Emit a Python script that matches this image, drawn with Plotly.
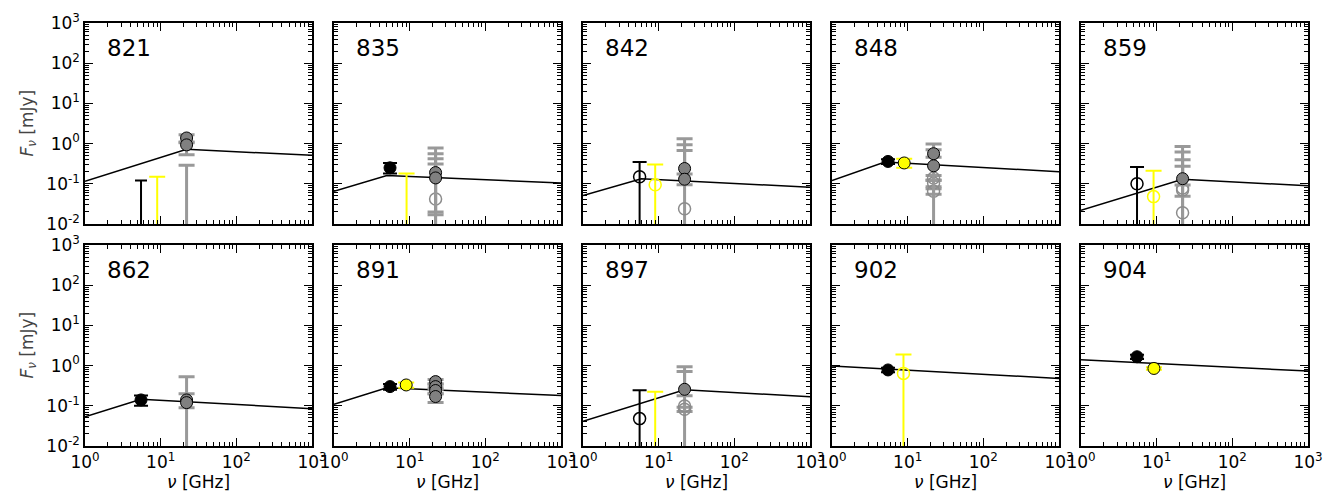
import plotly.graph_objects as go

# ---------------- data ----------------
PANEL_IDS = ["821", "835", "842", "848", "859", "862", "891", "897", "902", "904"]

# model SED (broken power law) nodes per panel
MODEL_NU = [[1, 22, 1000], [1, 5, 1000], [1, 5.9, 1000], [1, 5, 1000], [1, 22, 1000],
            [1, 5.5, 1000], [1, 5, 1000], [1, 22, 1000], [1, 1000], [1, 1000]]
MODEL_FLUX = [[0.115, 0.72, 0.51], [0.065, 0.16, 0.105], [0.051, 0.134, 0.082],
              [0.12, 0.35, 0.2], [0.022, 0.13, 0.089], [0.053, 0.145, 0.085],
              [0.109, 0.28, 0.18], [0.041, 0.25, 0.169], [0.98, 0.48], [1.4, 0.73]]

# (panel, nu [GHz], flux [mJy], err_up, err_down); err_down None -> extends below axis
BLACK_FILLED = [(1, 5.5, 0.25, 0.08, 0.07), (3, 5.5, 0.36, 0.05, 0.05),
                (5, 5.5, 0.14, 0.04, 0.04), (6, 5.5, 0.30, 0.05, 0.05),
                (8, 5.5, 0.78, 0.10, 0.10), (9, 5.5, 1.66, 0.20, 0.20)]
YELLOW_FILLED = [(3, 9.0, 0.33, 0.09, 0.08), (6, 9.0, 0.33, 0.05, 0.05),
                 (9, 9.2, 0.85, 0.06, 0.06)]
GRAY_FILLED = [(0, 22, 1.38, 0.28, 0.33), (0, 22, 0.93, 0.17, 0.40),
               (1, 22, 0.19, 0.59, 0.17), (1, 22, 0.14, 0.42, None),
               (2, 22, 0.24, 1.08, 0.065), (2, 22, 0.13, 0.80, 0.035),
               (3, 22, 0.56, 0.42, 0.10), (3, 22, 0.28, 0.42, None),
               (4, 22, 0.134, 0.14, 0.04),
               (5, 22, 0.14, 0.06, 0.05), (5, 22, 0.12, 0.41, None),
               (6, 22, 0.40, 0.05, 0.05), (6, 22, 0.30, 0.05, 0.05),
               (6, 22, 0.24, 0.04, 0.04), (6, 22, 0.17, 0.03, 0.05),
               (7, 22, 0.257, 0.68, 0.08)]
BLACK_OPEN = [(2, 5.6, 0.15, 0.20, None), (4, 5.5, 0.10, 0.16, None),
              (7, 5.6, 0.048, 0.195, None)]
YELLOW_OPEN = [(2, 9.0, 0.095, 0.205, None), (4, 9.1, 0.048, 0.162, None),
               (8, 8.8, 0.64, 1.26, None)]
GRAY_OPEN = [(1, 22, 0.042, 0.38, 0.025), (2, 22, 0.024, 0.65, None),
             (3, 22, 0.14, 0.02, 0.02), (3, 22, 0.105, 0.02, 0.02), (3, 22, 0.065, 0.01, 0.01),
             (4, 22, 0.079, 0.54, 0.03), (4, 22, 0.07, 0.78, None), (4, 22, 0.019, 0.38, None),
             (7, 22, 0.099, 0.61, None), (7, 22, 0.082, 0.01, 0.01)]
# upper limits: (panel, nu, limit)
BLACK_LIMITS = [(0, 5.5, 0.12)]
YELLOW_LIMITS = [(0, 9.0, 0.15), (1, 9.1, 0.18), (7, 9.0, 0.225)]
GRAY_LIMITS = [(0, 22, 0.29), (1, 22, 0.31)]

X_TICKS = [1, 10, 100, 1000]
X_TICKTEXT = ["10<sup>0</sup>", "10<sup>1</sup>", "10<sup>2</sup>", "10<sup>3</sup>"]
Y_TICKS = [0.01, 0.1, 1, 10, 100, 1000]
Y_TICKTEXT = ["10<sup>-2</sup>", "10<sup>-1</sup>", "10<sup>0</sup>",
              "10<sup>1</sup>", "10<sup>2</sup>", "10<sup>3</sup>"]

# ---------------- style ----------------
FONT = "DejaVu Sans"
BLACK = "#000000"
YELLOW = "#ffff00"
GRAY_FILL = "#808080"
GRAY_BAR = "#999999"
GRAY_EDGE = "#8c8c8c"
W, H = 1331, 492
COL_LEFT = [77, 326, 575, 824, 1073]
PANEL_W = 227
ROW_TOP = [15, 237]
PANEL_H = 201
BOTTOM_FLOOR = 1e-4

fig = go.Figure()


def ax_names(i):
    n = i + 1
    return ("x" if n == 1 else f"x{n}"), ("y" if n == 1 else f"y{n}")


# model lines
for i in range(10):
    xr, yr = ax_names(i)
    fig.add_trace(go.Scatter(x=MODEL_NU[i], y=MODEL_FLUX[i], mode="lines",
                             line=dict(color=BLACK, width=1.5), xaxis=xr, yaxis=yr,
                             showlegend=False, hoverinfo="skip"))


def add_points(entries, marker, bar_color, bar_thick, bar_w):
    for i in range(10):
        pts = [e for e in entries if e[0] == i]
        if not pts:
            continue
        xr, yr = ax_names(i)
        xs = [p[1] for p in pts]
        ys = [p[2] for p in pts]
        up = [p[3] for p in pts]
        dn = [(p[2] - BOTTOM_FLOOR) if p[4] is None else p[4] for p in pts]
        fig.add_trace(go.Scatter(
            x=xs, y=ys, mode="markers", marker=marker, xaxis=xr, yaxis=yr,
            error_y=dict(type="data", array=up, arrayminus=dn, color=bar_color,
                         thickness=bar_thick, width=bar_w, symmetric=False),
            showlegend=False, hoverinfo="skip"))


def add_limits(entries, bar_color, bar_thick, bar_w):
    for i in range(10):
        pts = [e for e in entries if e[0] == i]
        if not pts:
            continue
        xr, yr = ax_names(i)
        fig.add_trace(go.Scatter(
            x=[p[1] for p in pts], y=[p[2] for p in pts], mode="markers",
            marker=dict(size=1, color="rgba(0,0,0,0)"), xaxis=xr, yaxis=yr,
            error_y=dict(type="data", array=[0 for _ in pts],
                         arrayminus=[p[2] - BOTTOM_FLOOR for p in pts],
                         color=bar_color, thickness=bar_thick, width=bar_w, symmetric=False),
            showlegend=False, hoverinfo="skip"))


add_limits(BLACK_LIMITS, BLACK, 2, 6)
add_limits(YELLOW_LIMITS, YELLOW, 2, 8)
add_limits(GRAY_LIMITS, GRAY_BAR, 3, 8)

add_points(GRAY_OPEN, dict(symbol="circle-open", size=12, color=GRAY_EDGE, line=dict(width=1.5)),
           GRAY_BAR, 3, 8)
add_points(GRAY_FILLED, dict(symbol="circle", size=12, color=GRAY_FILL, line=dict(color=BLACK, width=1)),
           GRAY_BAR, 3, 8)
add_points(BLACK_OPEN, dict(symbol="circle-open", size=12, color=BLACK, line=dict(width=1.5)),
           BLACK, 2, 7)
add_points(YELLOW_OPEN, dict(symbol="circle-open", size=12, color=YELLOW, line=dict(width=1.5)),
           YELLOW, 2, 8)
add_points(BLACK_FILLED, dict(symbol="circle", size=12, color=BLACK, line=dict(color=BLACK, width=1)),
           BLACK, 2, 7)
add_points(YELLOW_FILLED, dict(symbol="circle", size=12, color=YELLOW, line=dict(color=BLACK, width=1)),
           YELLOW, 2, 8)

minor_x = [k * 10 ** n for n in range(0, 3) for k in range(2, 10)]
minor_y = [k * 10.0 ** n for n in range(-2, 3) for k in range(2, 10)]

layout = dict(width=W, height=H, margin=dict(l=0, r=0, t=0, b=0),
              paper_bgcolor="white", plot_bgcolor="white",
              font=dict(family=FONT, size=17, color=BLACK), showlegend=False)
annotations = []

for i in range(10):
    r, c = divmod(i, 5)
    n = i + 1
    x0 = COL_LEFT[c] / W
    x1 = (COL_LEFT[c] + PANEL_W) / W
    y1 = 1 - ROW_TOP[r] / H
    y0 = 1 - (ROW_TOP[r] + PANEL_H) / H
    xr, yr = ax_names(i)
    xkey = "xaxis" if n == 1 else f"xaxis{n}"
    ykey = "yaxis" if n == 1 else f"yaxis{n}"
    common = dict(type="log", showgrid=False, zeroline=False, showline=True,
                  linecolor=BLACK, linewidth=1.5, mirror="allticks",
                  ticks="inside", ticklen=8, tickwidth=1, tickcolor=BLACK,
                  tickfont=dict(family=FONT, size=17, color=BLACK),
                  tickmode="array", automargin=False, fixedrange=True)
    layout[xkey] = dict(common, domain=[x0, x1], range=[0, 3], anchor=yr,
                        tickvals=X_TICKS, ticktext=X_TICKTEXT,
                        showticklabels=(r == 1),
                        minor=dict(tickmode="array", tickvals=minor_x, ticks="inside",
                                   ticklen=4, tickwidth=1, tickcolor=BLACK, showgrid=False))
    layout[ykey] = dict(common, domain=[y0, y1], range=[-2, 3], anchor=xr,
                        tickvals=Y_TICKS, ticktext=Y_TICKTEXT,
                        showticklabels=(c == 0),
                        minor=dict(tickmode="array", tickvals=minor_y, ticks="inside",
                                   ticklen=4, tickwidth=1, tickcolor=BLACK, showgrid=False))
    annotations.append(dict(text=PANEL_IDS[i], xref=f"{xr} domain", yref=f"{yr} domain",
                            x=0.09, y=0.875, xanchor="left", yanchor="middle",
                            showarrow=False, font=dict(family=FONT, size=23, color=BLACK)))
    if r == 1:
        annotations.append(dict(text="<i>ν</i> [GHz]", xref="paper", yref="paper",
                                x=(COL_LEFT[c] + PANEL_W / 2) / W, y=(H - 474) / H,
                                xanchor="center", yanchor="middle", showarrow=False,
                                font=dict(family=FONT, size=17, color=BLACK)))
    if c == 0:
        annotations.append(dict(text="<i>F</i><sub><i>ν</i></sub> [mJy]", xref="paper", yref="paper",
                                x=20 / W, y=1 - (ROW_TOP[r] + PANEL_H / 2) / H,
                                xanchor="center", yanchor="middle", textangle=-90,
                                showarrow=False, font=dict(family=FONT, size=17, color="#444444")))

layout["annotations"] = annotations
fig.update_layout(**layout)
fig.write_html("out.html")
